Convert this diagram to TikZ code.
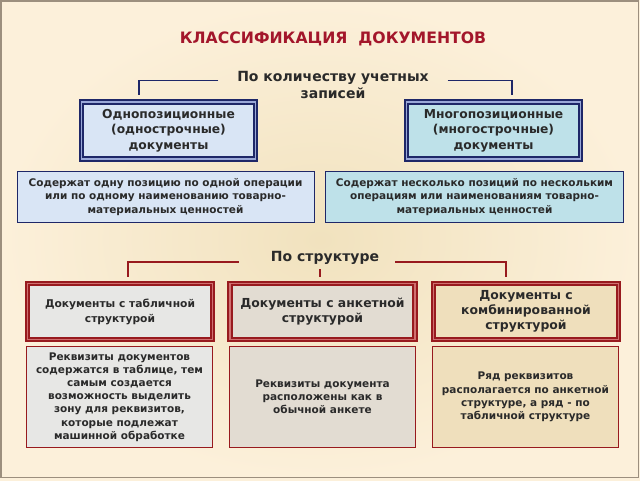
\documentclass[tikz,border=0pt]{standalone}
\usepackage{fontspec}
\setmainfont{DejaVu Sans}
\usetikzlibrary{positioning}
\definecolor{bgcream}{HTML}{FCF0DA}
\definecolor{bgmid}{HTML}{F1E2BE}
\definecolor{framegray}{HTML}{9C8F7E}
\definecolor{ink}{HTML}{2A2A2A}
\definecolor{titlered}{HTML}{A3162B}
\definecolor{navy}{HTML}{1E2768}
\definecolor{navyband}{HTML}{9AA8D8}
\definecolor{darkred}{HTML}{981A1E}
\definecolor{redband}{HTML}{D07070}
\definecolor{fillblue}{HTML}{D9E5F5}
\definecolor{fillcyan}{HTML}{BEE1E9}
\definecolor{fillgray}{HTML}{E7E7E5}
\definecolor{fillstone}{HTML}{E2DCD2}
\definecolor{fillwheat}{HTML}{EFDFBC}
\tikzset{
  every node/.style={text=ink, font=\bfseries, align=center, outer sep=0pt},
  bluehead/.style={draw=navy, line width=1.8pt, double=navyband, double distance=1.6pt,
    minimum width=174pt, minimum height=57pt, font=\bfseries\fontsize{12.3}{15.5}\selectfont},
  bluedesc/.style={draw=navy, line width=1pt, minimum width=297pt, minimum height=51pt,
    font=\bfseries\fontsize{10.5}{13.3}\selectfont},
  redhead/.style={draw=darkred, line width=1.8pt, double=redband, double distance=1.6pt,
    minimum width=185pt, minimum height=56pt, font=\bfseries\fontsize{12.4}{15}\selectfont},
  reddesc/.style={draw=darkred, line width=1pt, minimum width=186pt, minimum height=101pt,
    font=\bfseries\fontsize{10.5}{13.2}\selectfont},
  navyline/.style={draw=navy, line width=1.8pt},
  redline/.style={draw=darkred, line width=1.8pt}
}
\begin{document}
\begin{tikzpicture}[x=1pt, y=-1pt]
\useasboundingbox (0,0) rectangle (640,480);
\shade[inner color=bgmid, outer color=bgcream] (0,0) rectangle (640,480);
\draw[framegray, line width=1.5pt] (1,1) rectangle (638.5,477.5);

% title and first grouping
\node[text=titlered, font=\bfseries\fontsize{15.7}{18}\selectfont] (title) at (333,39) {КЛАССИФИКАЦИЯ\ \ ДОКУМЕНТОВ};
\node[font=\bfseries\fontsize{14}{17}\selectfont, inner xsep=19pt] (byqty) at (333,84.5) {По количеству учетных\\записей};

\node[bluehead, fill=fillblue] (single) at (168.5,130.5) {Однопозиционные\\(однострочные)\\документы};
\node[bluehead, fill=fillcyan] (multi) at (493.5,130.5) {Многопозиционные\\(многострочные)\\документы};
\node[bluedesc, fill=fillblue] (singledesc) at (165.5,197) {Содержат одну позицию по одной операции\\или по одному наименованию товарно-\\материальных ценностей};
\node[bluedesc, fill=fillcyan, minimum width=298pt] (multidesc) at (474.5,197) {Содержат несколько позиций по нескольким\\операциям или наименованиям товарно-\\материальных ценностей};

\draw[navyline, shorten >=7pt] ([yshift=4pt]byqty.west) -| ([xshift=-29.5pt]single.north);
\draw[navyline, shorten >=7pt] ([yshift=4pt]byqty.east) -| ([xshift=18.5pt]multi.north);

% second grouping
\node[font=\bfseries\fontsize{14}{17}\selectfont, inner xsep=16pt] (bystruct) at (325,257.5) {По структуре};

\node[redhead, fill=fillgray, font=\bfseries\fontsize{10.7}{15}\selectfont] (table) at (120,311.5) {Документы с табличной\\структурой};
\node[redhead, fill=fillstone] (form) at (322.5,311.5) {Документы с анкетной\\структурой};
\node[redhead, fill=fillwheat] (mixed) at (526,311.5) {Документы с\\комбинированной\\структурой};

\node[reddesc, fill=fillgray] (tabledesc) at (119.5,397) {Реквизиты документов\\содержатся в таблице, тем\\самым создается\\возможность выделить\\зону для реквизитов,\\которые подлежат\\машинной обработке};
\node[reddesc, fill=fillstone] (formdesc) at (322.5,397) {Реквизиты документа\\расположены как в\\обычной анкете};
\node[reddesc, fill=fillwheat] (mixeddesc) at (525.5,397) {Ряд реквизитов\\располагается по анкетной\\структуре, а ряд - по\\табличной структуре};

\draw[redline, shorten >=6.5pt] ([xshift=-16pt, yshift=-4.5pt]bystruct.west) -| ([xshift=8pt]table.north);
\draw[redline, shorten >=6.5pt] ([yshift=-4.5pt]bystruct.east) -| ([xshift=-20pt]mixed.north);
\draw[redline, shorten >=6.5pt] ([xshift=-5pt, yshift=-2pt]bystruct.south) -- ([xshift=-2.5pt]form.north);
\end{tikzpicture}
\end{document}
